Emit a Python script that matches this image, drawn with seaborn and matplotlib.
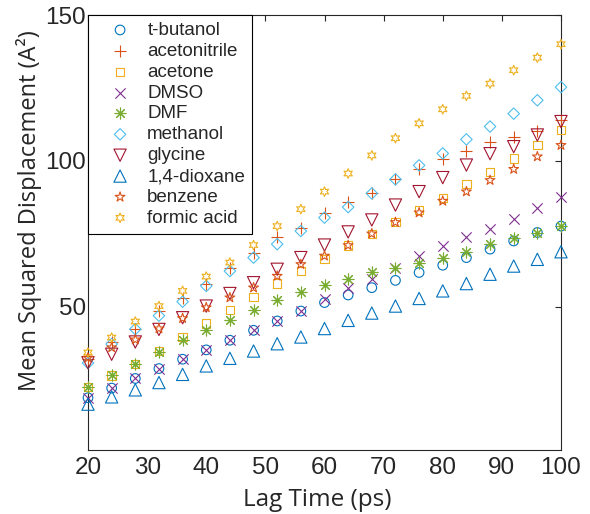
import matplotlib
matplotlib.use("Agg")
import matplotlib.pyplot as plt
import seaborn as sns
import pandas as pd

# ---- data ----
lag_time = [20, 24, 28, 32, 36, 40, 44, 48, 52, 56, 60, 64, 68, 72, 76, 80, 84, 88, 92, 96, 100]

t_butanol    = [18.9, 22.2, 25.5, 28.9, 32.1, 35.3, 38.6, 42.0, 45.2, 48.6, 51.5, 54.1, 56.6, 59.1, 61.8, 64.3, 66.9, 69.8, 72.6, 75.5, 77.7]
acetonitrile = [32.0, 38.0, 42.5, 48.6, 53.0, 58.0, 63.5, 68.6, 73.8, 77.0, 82.3, 86.0, 88.9, 93.9, 97.2, 100.6, 103.4, 106.6, 108.2, 110.3, 113.9]
acetone      = [22.5, 26.5, 30.5, 35.0, 39.7, 44.3, 48.9, 53.5, 58.0, 62.3, 66.5, 71.0, 75.1, 79.2, 83.2, 87.4, 92.0, 96.3, 100.9, 105.4, 110.5]
dmso         = [18.9, 22.2, 25.5, 28.9, 32.1, 35.3, 38.6, 42.0, 45.2, 48.6, 52.6, 56.6, 59.7, 63.5, 67.5, 70.9, 74.0, 76.6, 80.0, 83.8, 87.7]
dmf          = [22.6, 26.7, 30.4, 34.6, 38.6, 42.1, 45.5, 48.9, 52.3, 55.1, 57.4, 59.7, 62.1, 63.5, 65.2, 66.9, 68.8, 71.5, 73.7, 75.5, 77.7]
methanol     = [30.8, 37.3, 42.4, 47.0, 51.8, 57.2, 62.3, 66.9, 71.5, 76.0, 80.6, 84.2, 88.9, 93.7, 98.5, 102.6, 107.4, 111.8, 116.2, 120.8, 125.3]
glycine      = [30.9, 33.8, 38.0, 42.3, 46.3, 50.3, 54.6, 58.3, 62.9, 66.9, 71.2, 75.7, 79.8, 84.9, 89.5, 94.3, 98.6, 102.5, 104.9, 108.9, 113.5]
dioxane      = [16.7, 19.2, 21.6, 24.1, 26.9, 29.8, 32.4, 34.9, 37.4, 39.7, 42.6, 45.4, 47.9, 50.3, 52.9, 55.5, 58.0, 61.2, 64.0, 66.3, 68.9]
benzene      = [32.6, 36.1, 38.8, 42.6, 46.1, 49.8, 53.2, 56.6, 60.6, 64.6, 67.5, 71.1, 75.1, 79.0, 82.3, 86.3, 89.5, 93.4, 97.2, 101.5, 105.4]
formic_acid  = [34.4, 39.5, 45.0, 50.3, 55.5, 60.4, 65.2, 71.2, 77.7, 83.5, 89.5, 95.7, 101.9, 107.8, 112.9, 117.7, 122.3, 126.5, 131.1, 135.4, 140.0]

names = ["t-butanol", "acetonitrile", "acetone", "DMSO", "DMF",
         "methanol", "glycine", "1,4-dioxane", "benzene", "formic acid"]
series = [t_butanol, acetonitrile, acetone, dmso, dmf,
          methanol, glycine, dioxane, benzene, formic_acid]

x_ticks = [20, 30, 40, 50, 60, 70, 80, 90, 100]
y_ticks = [50, 100, 150]

# ---- styles ----
colors = ["#0072BD", "#D95319", "#EDB120", "#7E2F8E", "#77AC30",
          "#4DBEEE", "#A2142F", "#0072BD", "#D95319", "#EDB120"]
markers = ["o", "+", "s", "x", (8, 2, 0), "D", "v", "^", "*", (6, 1, 0)]
sizes = [48, 68, 36, 55, 62, 34, 78, 78, 54, 48]
filled = [True, False, True, False, False, True, True, True, True, True]

sns.set_style("white")
plt.rcParams["font.family"] = ["Liberation Sans", "DejaVu Sans"]

fig = plt.figure(figsize=(5.9, 5.14), dpi=100)
ax = fig.add_axes([88 / 590, 64 / 514, 473 / 590, 435 / 514])

for name, vals, c, m, s, f in zip(names, series, colors, markers, sizes, filled):
    df = pd.DataFrame({"lag": lag_time, "msd": vals})
    kw = dict(data=df, x="lag", y="msd", marker=m, s=s, linewidth=0.8,
              label=name, ax=ax, clip_on=False, zorder=3)
    if f:
        kw.update(facecolors="none", edgecolors=c, color=c)
    else:
        kw.update(color=c)
    sns.scatterplot(**kw)

ax.set_xlim(20, 100)
ax.set_ylim(1, 150)
ax.set_xticks(x_ticks)
ax.set_yticks(y_ticks)

spine_c = "#262626"
for sp in ax.spines.values():
    sp.set_visible(True)
    sp.set_color(spine_c)
    sp.set_linewidth(0.8)
ax.tick_params(direction="in", length=4.5, width=0.8, color=spine_c,
               top=True, right=True, labelsize=17.5, labelcolor="#262626")
ax.tick_params(axis="x", pad=5)
ax.tick_params(axis="y", pad=1.5)

ax.set_xlabel("Lag Time (ps)", fontsize=17.5, family=["Open Sans", "DejaVu Sans"], color="#262626")
ax.set_ylabel("Mean Squared Displacement (A\u00b2)", fontsize=17, family=["Open Sans", "DejaVu Sans"], color="#262626")
ax.xaxis.set_label_coords(0.484, -0.088)
ax.yaxis.set_label_coords(-0.097, 0.55)

leg = ax.legend(loc="upper left", bbox_to_anchor=(0.0, 1.0), borderaxespad=0.0,
                fontsize=13.5, frameon=True, fancybox=False, framealpha=1,
                edgecolor="black", borderpad=0.36, labelspacing=0.2,
                handlelength=2.7, handletextpad=0.1, scatterpoints=1)
leg.get_frame().set_linewidth(0.8)

fig.savefig("out.png", dpi=100)
